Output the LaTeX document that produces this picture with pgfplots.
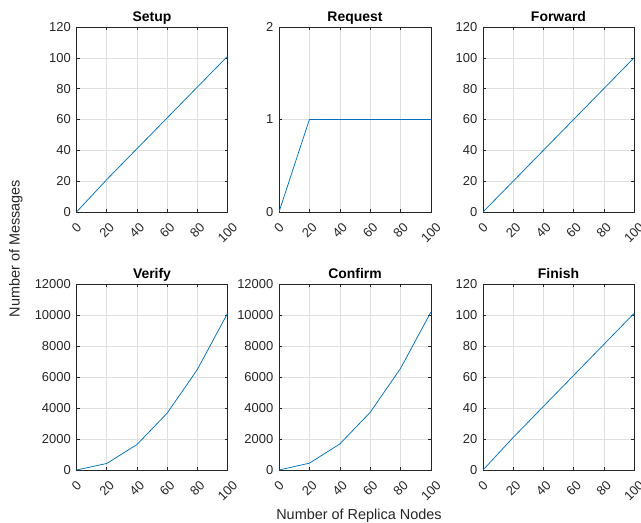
\documentclass[border=0pt]{standalone}
\usepackage{pgfplots}
\pgfplotsset{compat=1.18}
\usepackage{fontspec}
\setmainfont{Liberation Sans}
\definecolor{mblue}{HTML}{0072BD}
\definecolor{axgray}{HTML}{262626}
\definecolor{gridgray}{HTML}{DFDFDF}
\pgfplotsset{
  mstyle/.style={
    scale only axis,
    xmin=0, xmax=100,
    xtick={0,20,40,60,80,100},
    axis line style={axgray, line width=0.6bp},
    every tick/.style={axgray, line width=0.6bp},
    major tick length=3bp,
    tick align=inside,
    grid=major,
    major grid style={gridgray, line width=0.6bp},
    scaled y ticks=false,
    /pgf/number format/1000 sep={},
    /pgf/number format/assume math mode=true,
    tick label style={font=\fontsize{13}{15}\selectfont, text=axgray},
    xticklabel={\rotatebox{45}{\pgfmathprintnumber{\tick}}},
    xticklabel style={anchor=north, inner sep=0pt, yshift=-10bp},
    yticklabel style={anchor=east, inner sep=0pt, xshift=-5.5bp},
    title style={font=\fontsize{14}{16}\selectfont\bfseries, at={(0.5,1)}, anchor=base, yshift=0bp, inner sep=0pt},
    cycle list={{mblue, line width=0.75bp, mark=none}},
  }
}
\begin{document}
\begin{tikzpicture}
\path[use as bounding box] (0bp,0bp) rectangle (641bp,523bp);
% top row
\begin{axis}[mstyle, at={(76.5bp,311bp)}, anchor=south west, width=151bp, height=185bp,
  title={Setup}, ymin=0, ymax=120, ytick={0,20,40,60,80,100,120}]
\addplot[mblue, line width=0.75bp, mark=none] coordinates {(0,0) (20,21) (40,41) (60,61) (80,81) (100,101)};
\end{axis}
\begin{axis}[mstyle, at={(279bp,311bp)}, anchor=south west, width=152bp, height=185bp,
  title={Request}, ymin=0, ymax=2, ytick={0,1,2}]
\addplot[mblue, line width=0.75bp, mark=none] coordinates {(0,0) (20,1) (40,1) (60,1) (80,1) (100,1)};
\end{axis}
\begin{axis}[mstyle, at={(483bp,311bp)}, anchor=south west, width=151bp, height=185bp,
  title={Forward}, ymin=0, ymax=120, ytick={0,20,40,60,80,100,120}]
\addplot[mblue, line width=0.75bp, mark=none] coordinates {(0,0) (20,20) (40,40) (60,60) (80,80) (100,100)};
\end{axis}
% bottom row
\begin{axis}[mstyle, at={(76.5bp,53bp)}, anchor=south west, width=151bp, height=186bp,
  title={Verify}, ymin=0, ymax=12000, ytick={0,2000,4000,6000,8000,10000,12000}]
\addplot[mblue, line width=0.75bp, mark=none] coordinates {(0,0) (20,420) (40,1640) (60,3660) (80,6480) (100,10100)};
\end{axis}
\begin{axis}[mstyle, at={(279bp,53bp)}, anchor=south west, width=152bp, height=186bp,
  title={Confirm}, ymin=0, ymax=12000, ytick={0,2000,4000,6000,8000,10000,12000}]
\addplot[mblue, line width=0.75bp, mark=none] coordinates {(0,0) (20,440) (40,1680) (60,3720) (80,6560) (100,10200)};
\end{axis}
\begin{axis}[mstyle, at={(483bp,53bp)}, anchor=south west, width=151bp, height=186bp,
  title={Finish}, ymin=0, ymax=120, ytick={0,20,40,60,80,100,120}]
\addplot[mblue, line width=0.75bp, mark=none] coordinates {(0,0) (20,21) (40,41) (60,61) (80,81) (100,101)};
\end{axis}
\node[rotate=90, text=axgray, font=\fontsize{14.5}{17}\selectfont, inner sep=0pt] at (16bp,274.5bp) {Number of Messages};
\node[text=axgray, font=\fontsize{14.5}{17}\selectfont, inner sep=0pt] at (359bp,7bp) {Number of Replica Nodes};
\end{tikzpicture}
\end{document}
